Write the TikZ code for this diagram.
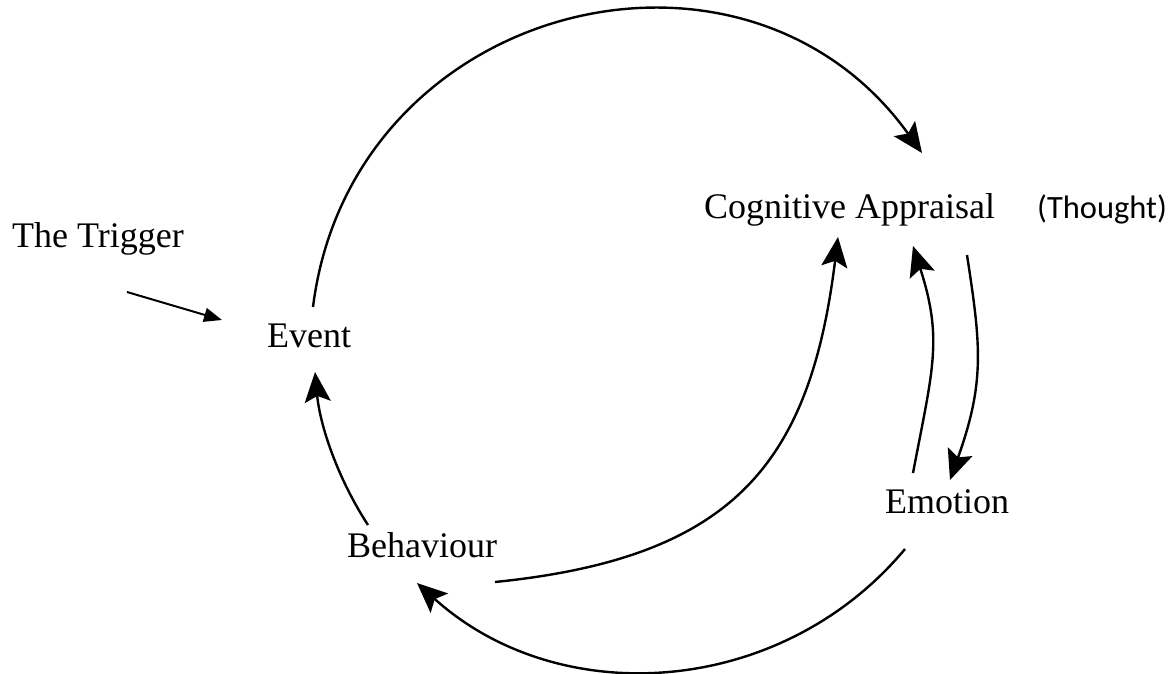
\documentclass[tikz,border=0pt]{standalone}
\usepackage{fontspec}
\setmainfont{Liberation Serif}
\newfontfamily\thoughtfont{Carlito}
\usetikzlibrary{arrows.meta}
\begin{document}
\begin{tikzpicture}[x=1pt,y=-1pt,
  lbl/.style={inner sep=0pt, anchor=base west, font=\fontsize{36}{40}\selectfont},
  thlbl/.style={inner sep=0pt, anchor=base west, font=\thoughtfont\fontsize{32.5}{38}\selectfont},
  cyc/.style={line width=2.4pt, -{Stealth[length=30pt,width=26pt,inset=6pt]}},
  trig/.style={line width=2pt, -{Triangle[length=18pt,width=14pt]}}]
\useasboundingbox (0,0) rectangle (1176,673);
\fill[white] (0,0) rectangle (1176,673);

\node[lbl] (trigger) at (12,247) {The Trigger};
\node[lbl] (event) at (267,347) {Event};
\node[lbl] (cog) at (704,218) {Cognitive Appraisal};
\node[thlbl] (thought) at (1037,218) {(Thought)};
\node[lbl] (emotion) at (885,513) {Emotion};
\node[lbl] (behav) at (347,557) {Behaviour};

% connector end points, placed relative to the labels
\coordinate (a1s) at ([shift={(46,-40)}]event.base west);
\coordinate (a6e) at ([shift={(48,25)}]event.base west);
\coordinate (a1e) at ([shift={(218,-65)}]cog.base west);
\coordinate (a2e) at ([shift={(134,19)}]cog.base west);
\coordinate (a3e) at ([shift={(209,28)}]cog.base west);
\coordinate (a4s) at ([shift={(263,37)}]cog.base west);
\coordinate (a3s) at ([shift={(28,-40)}]emotion.base west);
\coordinate (a4e) at ([shift={(65,-33)}]emotion.base west);
\coordinate (a5s) at ([shift={(20,36)}]emotion.base west);
\coordinate (a2s) at ([shift={(148,25)}]behav.base west);
\coordinate (a5e) at ([shift={(70,26)}]behav.base west);
\coordinate (a6s) at ([shift={(21,-32)}]behav.base west);
\coordinate (ts) at ([shift={(115,45)}]trigger.base west);
\coordinate (te) at ([shift={(-45,-27)}]event.base west);

\draw[trig] (ts) -- (te);
\draw[cyc] (a1s) .. controls +(38,-304) and +(-179,-249) .. (a1e);
\draw[cyc] (a2s) .. controls +(237,-24) and +(-28,228) .. (a2e);
\draw[cyc] (a3s) .. controls +(20,-105) and +(30,93) .. (a3e);
\draw[cyc] (a4s) .. controls +(14,91) and +(35,-98) .. (a4e);
\draw[cyc] (a5s) .. controls +(-123.5,148) and +(143,129) .. (a5e);
\draw[cyc] (a6s) .. controls +(-30,-46) and +(5,54) .. (a6e);
\end{tikzpicture}
\end{document}
